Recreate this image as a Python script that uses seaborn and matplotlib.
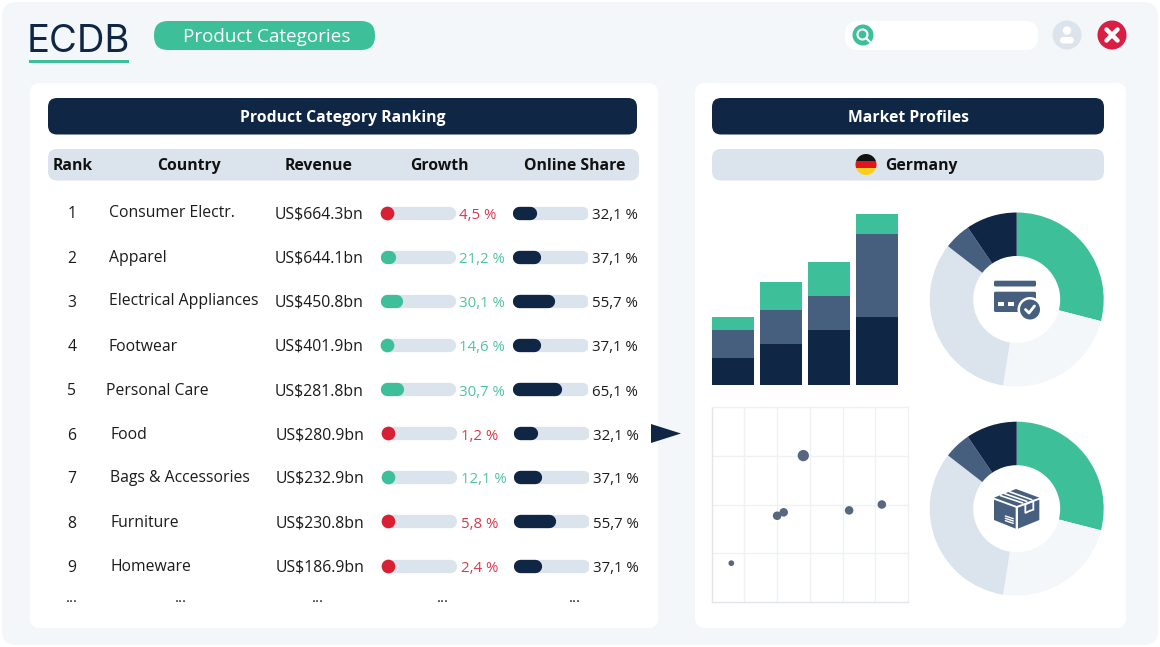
import numpy as np
import matplotlib
matplotlib.use('Agg')
import matplotlib.pyplot as plt
from matplotlib.patches import FancyBboxPatch, Circle, Polygon, Rectangle
import seaborn as sns

# Table data
categories = ['Consumer Electr.', 'Apparel', 'Electrical Appliances', 'Footwear', 'Personal Care',
              'Food', 'Bags & Accessories', 'Furniture', 'Homeware']
revenue = [664.3, 644.1, 450.8, 401.9, 281.8, 280.9, 232.9, 230.8, 186.9]
growth = [4.5, 21.2, 30.1, 14.6, 30.7, 1.2, 12.1, 5.8, 2.4]
online_share = [32.1, 37.1, 55.7, 37.1, 65.1, 32.1, 37.1, 55.7, 37.1]
headers = ['Rank', 'Country', 'Revenue', 'Growth', 'Online Share']

# Market profile data
periods = ['P1', 'P2', 'P3', 'P4']
stack_dark = [2, 3, 4, 5]
stack_mid = [2, 2.5, 2.5, 6]
stack_green = [1, 2, 2.5, 1.5]
donut_payment = [29, 23.5, 33, 5, 9.5]
donut_product = [29, 23.5, 33, 5, 9.5]
scatter_x = [0.6, 2.0, 2.2, 2.8, 4.2, 5.2]
scatter_y = [0.8, 1.77, 1.84, 3.0, 1.88, 2.0]
scatter_size = [1, 2, 2, 3, 2, 2]

NAVY = '#0f2745'
MID = '#475f7f'
GREEN = '#3dbf9a'
GRAY = '#dbe3ec'
PALE = '#f4f7fa'
RED = '#d81f33'
RED_TXT = '#d8394e'
GREEN_TXT = '#4fc4a3'
INK = '#1b1b1b'
W, H = 1160, 647
FS = 11.3

sns.set_theme(style='white')
plt.rcParams['font.family'] = ['Open Sans', 'DejaVu Sans']

fig = plt.figure(figsize=(W / 100, H / 100), dpi=100, facecolor='white')


def px_axes(x0, y0, x1, y1, z=1):
    ax = fig.add_axes([x0 / W, 1 - y1 / H, (x1 - x0) / W, (y1 - y0) / H], zorder=z)
    ax.patch.set_alpha(0)
    return ax


def rbox(ax, x0, y0, x1, y1, r, color, z=1):
    ax.add_patch(FancyBboxPatch((x0, y0), x1 - x0, y1 - y0, boxstyle=f'round,pad=0,rounding_size={r}',
                                fc=color, ec='none', zorder=z))


main = px_axes(0, 0, W, H)
main.set_xlim(0, W)
main.set_ylim(H, 0)
main.axis('off')

# Page and panels
rbox(main, 2, 2, 1158, 645, 14, PALE)
rbox(main, 30, 83, 658, 628, 10, 'white')
rbox(main, 695, 83, 1126, 628, 10, 'white')

# Top strip
main.text(27, 52, 'ECDB', fontsize=27.5, color=NAVY, family='Inter', weight='normal', va='baseline')
main.add_patch(Rectangle((29, 60), 99.5, 2.5, fc=GREEN, ec='none'))
rbox(main, 154, 21, 375, 50, 14, GREEN)
main.text(266.5, 41.5, 'Product Categories', fontsize=13.6, color='white', ha='center', va='baseline')
rbox(main, 845, 21, 1038, 50, 13, 'white')
main.add_patch(Circle((863, 35), 10.5, fc=GREEN, ec='none'))
main.add_patch(Circle((862.5, 34.5), 5, fc='none', ec='white', lw=1.5))
main.plot([866, 870], [38, 42], color='white', lw=1.5)
main.add_patch(Circle((1067, 35), 14.5, fc=GRAY, ec='none'))
main.add_patch(Circle((1067, 30.5), 4.2, fc='white', ec='none'))
rbox(main, 1060, 37, 1074, 43.5, 3, 'white', z=2)
main.add_patch(Circle((1112, 35), 14.5, fc='#d81e42', ec='none'))
main.plot([1106.5, 1117.5], [29.5, 40.5], color='white', lw=3.2, solid_capstyle='round')
main.plot([1106.5, 1117.5], [40.5, 29.5], color='white', lw=3.2, solid_capstyle='round')

# Section headers
rbox(main, 48, 98, 637, 134.5, 9, NAVY)
rbox(main, 712, 98, 1104, 134.5, 9, NAVY)
rbox(main, 48, 149, 639, 180.5, 9, GRAY)
rbox(main, 712, 149, 1104, 180.5, 9, GRAY)
main.text(343, 121.5, 'Product Category Ranking', fontsize=FS, weight='bold', color='white', ha='center', va='baseline')
main.text(908, 121.5, 'Market Profiles', fontsize=FS, weight='bold', color='white', ha='center', va='baseline')
for label, x in zip(headers, [73, 189, 319, 439, 575]):
    main.text(x, 169.5, label, fontsize=FS, weight='bold', color='#111111', ha='center', va='baseline')
main.text(885.5, 169.5, 'Germany', fontsize=FS, weight='bold', color='#111111', va='baseline')

# Flag
flag = Circle((866, 164.5), 10.5, fc='none', ec='none')
main.add_patch(flag)
for y, c in zip([154, 161, 168], ['#111111', '#e0161f', '#f7cf1d']):
    band = Rectangle((855, y), 22, 7.1, fc=c, ec='none', zorder=3)
    main.add_patch(band)
    band.set_clip_path(flag)

# Table rows
name_x = [109, 109, 109, 109, 106, 110, 110, 110, 110]
name_y = [217.3, 262.3, 305, 351.3, 395.3, 439.3, 482, 527.3, 571.3]
row_y = [218.3, 262.7, 306.7, 351, 395.3, 439.5, 483, 527.5, 571.5]
for i, name in enumerate(categories):
    shift = 1 if i >= 5 else 0
    up = growth[i] > 10
    main.text(72, row_y[i], str(i + 1), fontsize=FS, color=INK, ha='center', va='baseline')
    main.text(name_x[i], name_y[i], name, fontsize=FS, color=INK, va='baseline')
    main.text(274.5 + shift, row_y[i], f'US${revenue[i]:.1f}bn', fontsize=FS, color=INK, va='baseline')
    main.text(459.3 + shift * 1.5, row_y[i] + 0.3, f'{growth[i]:.1f} %'.replace('.', ','), fontsize=10.8,
              color=GREEN_TXT if up else RED_TXT, va='baseline')
    main.text(592 + shift, row_y[i] + 0.3, f'{online_share[i]:.1f} %'.replace('.', ','), fontsize=10.8,
              color=INK, va='baseline')
for x in [72, 181, 318, 443, 575]:
    main.text(x, 601.5, '...', fontsize=10.5, color=INK, ha='center', va='baseline')

# Progress bars with rounded ends, value axis runs 0-100 over the track
TRACK_W = 75.5
LW = 13.3 * 0.72
CAP = 6.65 / TRACK_W * 100


def progress(x0, rows, values, colors):
    y0 = 212.7 - 22
    ax = px_axes(x0, y0, x0 + TRACK_W, y0 + 44.1 * 9, z=2)
    ax.set_xlim(0, 100)
    ax.set_ylim(8.5, -0.5)
    ax.axis('off')
    for r in rows:
        ax.plot([CAP, 100 - CAP], [r, r], color=GRAY, lw=LW, solid_capstyle='round')
        if values[r] > 2 * CAP:
            ax.plot([CAP, values[r] - CAP], [r, r], color=colors[r], lw=LW, solid_capstyle='round')
        else:
            # too small for a pill, just the dot
            ax.plot([CAP], [r], 'o', color=colors[r], ms=LW + 0.3, mew=0)


growth_colors = [GREEN if g > 10 else RED for g in growth]
share_colors = [NAVY] * len(online_share)
progress(380, range(5), growth, growth_colors)
progress(381, range(5, 9), growth, growth_colors)
progress(512.7, range(5), online_share, share_colors)
progress(513.7, range(5, 9), online_share, share_colors)

main.add_patch(Polygon([(651, 424), (681, 433.5), (651, 443)], fc=NAVY, ec='none'))

# Stacked bars
ax_bar = px_axes(712, 213.7, 898, 385.3, z=2)
bottom_mid = np.array(stack_dark, dtype=float)
bottom_green = bottom_mid + np.array(stack_mid)
sns.barplot(x=periods, y=stack_dark, color=NAVY, saturation=1, width=0.885, linewidth=0, ax=ax_bar)
sns.barplot(x=periods, y=stack_mid, bottom=bottom_mid, color=MID, saturation=1, width=0.885, linewidth=0, ax=ax_bar)
sns.barplot(x=periods, y=stack_green, bottom=bottom_green, color=GREEN, saturation=1, width=0.885, linewidth=0, ax=ax_bar)
ax_bar.set_xlim(-0.4425, 3.4425)
ax_bar.set_ylim(0, 12.5)
ax_bar.axis('off')

# Scatter
ax_sc = px_axes(711.7, 406.7, 908, 602.3, z=2)
sns.scatterplot(x=scatter_x, y=scatter_y, size=scatter_size, sizes={1: 17, 2: 38, 3: 66}, color='#56677f',
                linewidth=0, alpha=1, legend=False, ax=ax_sc, zorder=3)
ax_sc.set_xlim(0, 6)
ax_sc.set_ylim(0, 4)
ax_sc.set_xticks(range(1, 6))
ax_sc.set_yticks(range(1, 4))
ax_sc.set_xticklabels([])
ax_sc.set_yticklabels([])
ax_sc.tick_params(length=0)
ax_sc.grid(True, color='#eff1f4', lw=1)
for side, spine in ax_sc.spines.items():
    spine.set_color('#e2e5ea' if side in ('left', 'bottom') else '#eff1f4')
    spine.set_linewidth(1)

# Donuts
donut_colors = [GREEN, PALE, GRAY, MID, NAVY]
for values, cy in [(donut_payment, 299.5), (donut_product, 508.7)]:
    ax_d = px_axes(1016.7 - 87, cy - 87, 1016.7 + 87, cy + 87, z=2)
    ax_d.pie(values, colors=donut_colors, startangle=90, counterclock=False, radius=1,
             wedgeprops=dict(width=0.5, linewidth=0))
    ax_d.set_xlim(-1, 1)
    ax_d.set_ylim(-1, 1)

# Icons on top of the donuts
over = px_axes(0, 0, W, H, z=5)
over.set_xlim(0, W)
over.set_ylim(H, 0)
over.axis('off')

# card icon
rbox(over, 994, 280.7, 1036, 286.5, 1.5, MID)
rbox(over, 994, 291.7, 1036, 312, 1.5, MID)
over.add_patch(Rectangle((997.5, 301.5), 6.5, 4, fc='white', ec='none', zorder=3))
over.add_patch(Rectangle((1007.5, 301.5), 6.5, 4, fc='white', ec='none', zorder=3))
over.add_patch(Circle((1030, 309.5), 12.5, fc='white', ec='none', zorder=3))
over.add_patch(Circle((1030, 309.5), 10, fc=MID, ec='none', zorder=4))
over.plot([1025.5, 1029, 1034.5], [309.5, 313, 306], color='white', lw=2, zorder=5, solid_capstyle='round')


# box icon, outline taken from the crop
def bx(points):
    return [(980 + p / 3, 475 + q / 3) for p, q in points]


over.add_patch(Polygon(bx([(42, 68), (108, 42), (178, 68), (110, 93)]), fc=MID, ec='none', zorder=2))
over.add_patch(Polygon(bx([(42, 74), (107, 98), (107, 161), (42, 135)]), fc=MID, ec='none', zorder=2))
over.add_patch(Polygon(bx([(114, 98), (178, 74), (178, 135), (114, 161)]), fc=MID, ec='none', zorder=2))
for a, b in [((62, 62), (128, 84)), ((74, 56), (140, 79)), ((88, 50), (155, 74))]:
    xs, ys = zip(*bx([a, b]))
    over.plot(xs, ys, color='white', lw=1.2, zorder=3)
over.add_patch(Polygon(bx([(136, 88), (160, 78), (160, 104), (148, 108), (136, 114)]), fc='none', ec='white', lw=1.3, zorder=3))
for q in [127, 134, 141]:
    xs, ys = zip(*bx([(76, q - 4), (100, q + 4)]))
    over.plot(xs, ys, color='white', lw=1, zorder=3)

fig.savefig('out.png', dpi=100)
